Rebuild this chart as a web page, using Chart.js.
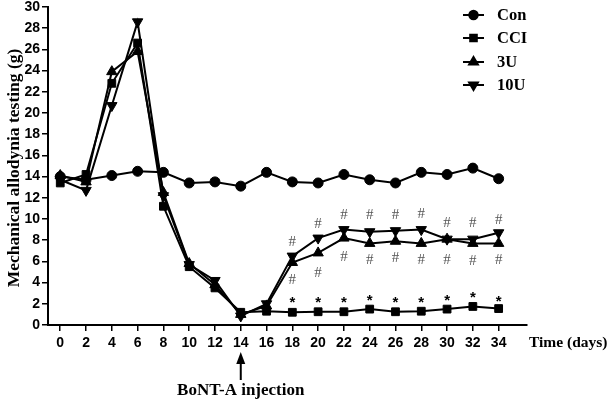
<!DOCTYPE html>
<html>
<head>
<meta charset="utf-8">
<script src="https://cdn.jsdelivr.net/npm/chart.js@4.4.1/dist/chart.umd.min.js"></script>
<style>
html,body{margin:0;padding:0;background:#fff;}
#wrap{width:614px;height:401px;position:relative;}
</style>
</head>
<body>
<div id="wrap"><canvas id="c" width="614" height="401"></canvas></div>
<script>
const days = [0,2,4,6,8,10,12,14,16,18,20,22,24,26,28,30,32,34];
const con  = [14.0,13.7,14.1,14.5,14.4,13.4,13.5,13.1,14.4,13.5,13.4,14.2,13.7,13.4,14.4,14.2,14.8,13.8];
const cci  = [13.4,14.2,22.8,26.6,11.2,5.5,3.5,1.2,1.3,1.2,1.25,1.25,1.5,1.25,1.3,1.5,1.75,1.55];
const u3   = [14.1,13.5,23.9,25.8,12.5,5.8,3.8,1.0,1.8,5.9,6.8,8.2,7.7,7.9,7.7,8.1,7.7,7.7];
const u10  = [13.7,12.7,20.7,28.6,12.2,5.7,4.2,0.85,2.0,6.5,8.2,9.0,8.8,8.9,9.0,8.1,8.1,8.7];
const xTicks = [0,2,4,6,8,10,12,14,16,18,20,22,24,26,28,30,32,34];
const yTicks = [0,2,4,6,8,10,12,14,16,18,20,22,24,26,28,30];
const markDays = [18,20,22,24,26,28,30,32,34];
const hashAbove = [7.8,9.5,10.4,10.4,10.4,10.5,9.6,9.6,9.9];
const hashBelow = [4.2,4.9,6.4,6.1,6.3,6.1,6.1,6.0,6.1];
const starCCI  = [2.4,2.4,2.4,2.6,2.4,2.4,2.6,2.8,2.5];
const seriesNames = ['Con','CCI','3U','10U'];
const injectionDay = 14;

const serif = '"Liberation Serif","Times New Roman",serif';
const sans = '"Liberation Sans",Arial,sans-serif';

function pts(arr){ return days.map((d,i)=>({x:d,y:arr[i]})); }

const styles = [
  {pointStyle:'circle', radius:5, rotation:0},
  {pointStyle:'rect', radius:5.5, rotation:0},
  {pointStyle:'triangle', radius:6, rotation:0},
  {pointStyle:'triangle', radius:6, rotation:180}
];
const dataArrs = [con,cci,u3,u10];

const datasets = dataArrs.map((a,i)=>({
  label: seriesNames[i],
  data: pts(a),
  borderColor:'#000',
  backgroundColor:'#000',
  borderWidth:2,
  pointStyle: styles[i].pointStyle,
  pointRadius: styles[i].radius,
  pointRotation: styles[i].rotation,
  pointBorderWidth:1,
  pointBackgroundColor:'#000',
  pointBorderColor:'#000',
  tension:0,
  clip:false
}));

const extras = {
  id:'extras',
  afterDraw(chart){
    const ctx = chart.ctx;
    const xs = chart.scales.x, ys = chart.scales.y;
    ctx.save();
    // annotations
    ctx.textAlign='center'; ctx.textBaseline='middle';
    ctx.fillStyle='#555';
    ctx.font = '15px '+serif;
    markDays.forEach((d,i)=>{
      ctx.fillText('#', xs.getPixelForValue(d), ys.getPixelForValue(hashAbove[i]));
      ctx.fillText('#', xs.getPixelForValue(d), ys.getPixelForValue(hashBelow[i]));
    });
    ctx.fillStyle='#000';
    ctx.font = 'bold 15px '+sans;
    markDays.forEach((d,i)=>{
      ctx.fillText('*', xs.getPixelForValue(d), ys.getPixelForValue(starCCI[i])+3);
    });
    // x title
    ctx.textAlign='left';
    ctx.font='bold 15.5px '+serif;
    ctx.fillText('Time (days)', 529, 343);
    // arrow
    const ax = xs.getPixelForValue(injectionDay);
    ctx.strokeStyle='#000'; ctx.lineWidth=2;
    ctx.beginPath(); ctx.moveTo(ax,380); ctx.lineTo(ax,360); ctx.stroke();
    ctx.beginPath(); ctx.moveTo(ax,352); ctx.lineTo(ax-4.5,364); ctx.lineTo(ax+4.5,364); ctx.closePath(); ctx.fill();
    ctx.textAlign='center';
    ctx.font='bold 17px '+serif;
    ctx.fillText('BoNT-A injection', ax, 391);
    // y title
    ctx.save();
    ctx.translate(14,168); ctx.rotate(-Math.PI/2);
    ctx.font='bold 17.5px '+serif;
    ctx.fillText('Mechanical allodynia testing (g)',0,0);
    ctx.restore();
    // legend
    const ly=[15,38,62,85];
    seriesNames.forEach((n,i)=>{
      const y=ly[i];
      ctx.strokeStyle='#000'; ctx.lineWidth=2;
      ctx.beginPath(); ctx.moveTo(463,y); ctx.lineTo(484,y); ctx.stroke();
      const st = styles[i];
      Chart.helpers.drawPoint(ctx,{pointStyle:st.pointStyle,radius:st.radius*0.85,rotation:st.rotation,borderWidth:1},473.5,y);
      ctx.fillStyle='#000';
      ctx.fill();
      ctx.textAlign='left'; ctx.textBaseline='middle';
      ctx.font='bold 16.5px '+serif;
      ctx.fillText(n, 497, y+1);
    });
    ctx.restore();
  }
};

new Chart(document.getElementById('c'),{
  type:'line',
  data:{datasets},
  options:{
    responsive:false,
    animation:false,
    layout:{padding:{top:7,right:87,left:0,bottom:0}},
    plugins:{legend:{display:false},tooltip:{enabled:false}},
    scales:{
      x:{
        type:'linear', min:-0.95, max:36.2,
        afterBuildTicks(s){ s.ticks = xTicks.map(v=>({value:v})); },
        afterFit(s){ s.height = 76; s.paddingLeft = 0; s.paddingRight = 0; },
        grid:{display:true,drawOnChartArea:false,drawTicks:true,tickLength:6,color:'#000',lineWidth:1.5},
        border:{display:true,color:'#000',width:2},
        ticks:{color:'#000',font:{family:sans,size:14,weight:'bold'},padding:4,maxRotation:0,autoSkip:false}
      },
      y:{
        type:'linear', min:0, max:30,
        afterBuildTicks(s){ s.ticks = yTicks.map(v=>({value:v})); },
        afterFit(s){ s.width = 48; s.paddingTop = 0; s.paddingBottom = 0; },
        grid:{display:true,drawOnChartArea:false,drawTicks:true,tickLength:6,color:'#000',lineWidth:1.5},
        border:{display:true,color:'#000',width:2},
        ticks:{color:'#000',font:{family:sans,size:14,weight:'bold'},padding:2,autoSkip:false}
      }
    }
  },
  plugins:[extras]
});
</script>
</body>
</html>
